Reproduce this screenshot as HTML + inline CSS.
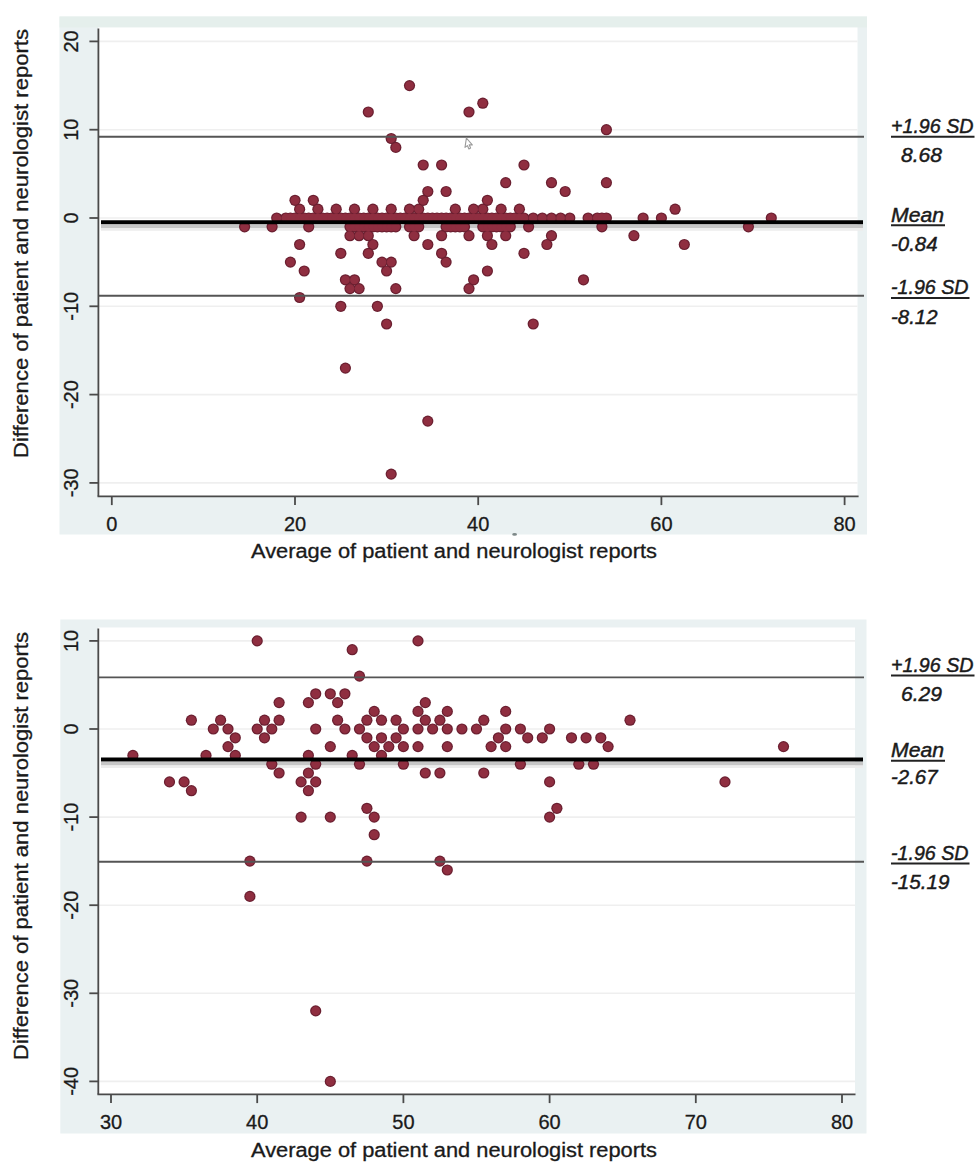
<!DOCTYPE html>
<html><head><meta charset="utf-8"><title>Bland-Altman plots</title>
<style>
html,body{margin:0;padding:0;background:#fff;}
svg{display:block;}
text{font-family:"Liberation Sans", sans-serif;fill:#1a1a1a;stroke:#1a1a1a;stroke-width:0.3px;}
</style></head>
<body>
<svg width="980" height="1172" viewBox="0 0 980 1172">
<rect width="980" height="1172" fill="#ffffff"/>
<rect x="59.5" y="16.5" width="807.5" height="518.0" fill="#eaf1f2"/>
<rect x="59.5" y="16.5" width="807.5" height="11.0" fill="#e5efec"/>
<rect x="98" y="27.5" width="759.5" height="468.5" fill="#ffffff"/>
<line x1="99" y1="41.4" x2="857.5" y2="41.4" stroke="#efefef" stroke-width="1.6"/>
<line x1="99" y1="129.7" x2="857.5" y2="129.7" stroke="#efefef" stroke-width="1.6"/>
<line x1="99" y1="218.0" x2="857.5" y2="218.0" stroke="#efefef" stroke-width="1.6"/>
<line x1="99" y1="306.3" x2="857.5" y2="306.3" stroke="#efefef" stroke-width="1.6"/>
<line x1="99" y1="394.6" x2="857.5" y2="394.6" stroke="#efefef" stroke-width="1.6"/>
<line x1="99" y1="482.9" x2="857.5" y2="482.9" stroke="#efefef" stroke-width="1.6"/>
<line x1="101" y1="226.4" x2="863" y2="226.4" stroke="#c6c6c6" stroke-width="3.4"/>
<line x1="101" y1="229.4" x2="863" y2="229.4" stroke="#ececec" stroke-width="2.6"/>
<g fill="#6a1f30">
<circle cx="409.5" cy="85.6" r="5.6"/>
<circle cx="482.8" cy="103.2" r="5.6"/>
<circle cx="368.3" cy="112.0" r="5.6"/>
<circle cx="469.0" cy="112.0" r="5.6"/>
<circle cx="606.4" cy="129.7" r="5.6"/>
<circle cx="391.2" cy="138.5" r="5.6"/>
<circle cx="395.8" cy="147.4" r="5.6"/>
<circle cx="423.2" cy="165.0" r="5.6"/>
<circle cx="441.6" cy="165.0" r="5.6"/>
<circle cx="524.0" cy="165.0" r="5.6"/>
<circle cx="505.7" cy="182.7" r="5.6"/>
<circle cx="551.5" cy="182.7" r="5.6"/>
<circle cx="606.4" cy="182.7" r="5.6"/>
<circle cx="427.8" cy="191.5" r="5.6"/>
<circle cx="446.1" cy="191.5" r="5.6"/>
<circle cx="565.2" cy="191.5" r="5.6"/>
<circle cx="295.0" cy="200.3" r="5.6"/>
<circle cx="313.3" cy="200.3" r="5.6"/>
<circle cx="423.2" cy="200.3" r="5.6"/>
<circle cx="487.4" cy="200.3" r="5.6"/>
<circle cx="299.6" cy="209.2" r="5.6"/>
<circle cx="317.9" cy="209.2" r="5.6"/>
<circle cx="336.2" cy="209.2" r="5.6"/>
<circle cx="354.5" cy="209.2" r="5.6"/>
<circle cx="372.9" cy="209.2" r="5.6"/>
<circle cx="391.2" cy="209.2" r="5.6"/>
<circle cx="409.5" cy="209.2" r="5.6"/>
<circle cx="418.7" cy="209.2" r="5.6"/>
<circle cx="455.3" cy="209.2" r="5.6"/>
<circle cx="473.6" cy="209.2" r="5.6"/>
<circle cx="482.8" cy="209.2" r="5.6"/>
<circle cx="501.1" cy="209.2" r="5.6"/>
<circle cx="519.4" cy="209.2" r="5.6"/>
<circle cx="675.1" cy="209.2" r="5.6"/>
<circle cx="276.7" cy="218.0" r="5.6"/>
<circle cx="285.8" cy="218.0" r="5.6"/>
<circle cx="290.4" cy="218.0" r="5.6"/>
<circle cx="295.0" cy="218.0" r="5.6"/>
<circle cx="299.6" cy="218.0" r="5.6"/>
<circle cx="304.2" cy="218.0" r="5.6"/>
<circle cx="308.7" cy="218.0" r="5.6"/>
<circle cx="313.3" cy="218.0" r="5.6"/>
<circle cx="317.9" cy="218.0" r="5.6"/>
<circle cx="322.5" cy="218.0" r="5.6"/>
<circle cx="327.1" cy="218.0" r="5.6"/>
<circle cx="331.6" cy="218.0" r="5.6"/>
<circle cx="336.2" cy="218.0" r="5.6"/>
<circle cx="340.8" cy="218.0" r="5.6"/>
<circle cx="345.4" cy="218.0" r="5.6"/>
<circle cx="350.0" cy="218.0" r="5.6"/>
<circle cx="354.5" cy="218.0" r="5.6"/>
<circle cx="359.1" cy="218.0" r="5.6"/>
<circle cx="363.7" cy="218.0" r="5.6"/>
<circle cx="368.3" cy="218.0" r="5.6"/>
<circle cx="372.9" cy="218.0" r="5.6"/>
<circle cx="377.4" cy="218.0" r="5.6"/>
<circle cx="382.0" cy="218.0" r="5.6"/>
<circle cx="386.6" cy="218.0" r="5.6"/>
<circle cx="391.2" cy="218.0" r="5.6"/>
<circle cx="395.8" cy="218.0" r="5.6"/>
<circle cx="400.3" cy="218.0" r="5.6"/>
<circle cx="404.9" cy="218.0" r="5.6"/>
<circle cx="409.5" cy="218.0" r="5.6"/>
<circle cx="414.1" cy="218.0" r="5.6"/>
<circle cx="418.7" cy="218.0" r="5.6"/>
<circle cx="423.2" cy="218.0" r="5.6"/>
<circle cx="427.8" cy="218.0" r="5.6"/>
<circle cx="432.4" cy="218.0" r="5.6"/>
<circle cx="437.0" cy="218.0" r="5.6"/>
<circle cx="441.6" cy="218.0" r="5.6"/>
<circle cx="446.1" cy="218.0" r="5.6"/>
<circle cx="450.7" cy="218.0" r="5.6"/>
<circle cx="455.3" cy="218.0" r="5.6"/>
<circle cx="459.9" cy="218.0" r="5.6"/>
<circle cx="464.5" cy="218.0" r="5.6"/>
<circle cx="469.0" cy="218.0" r="5.6"/>
<circle cx="473.6" cy="218.0" r="5.6"/>
<circle cx="478.2" cy="218.0" r="5.6"/>
<circle cx="482.8" cy="218.0" r="5.6"/>
<circle cx="487.4" cy="218.0" r="5.6"/>
<circle cx="491.9" cy="218.0" r="5.6"/>
<circle cx="496.5" cy="218.0" r="5.6"/>
<circle cx="501.1" cy="218.0" r="5.6"/>
<circle cx="505.7" cy="218.0" r="5.6"/>
<circle cx="510.3" cy="218.0" r="5.6"/>
<circle cx="514.8" cy="218.0" r="5.6"/>
<circle cx="519.4" cy="218.0" r="5.6"/>
<circle cx="524.0" cy="218.0" r="5.6"/>
<circle cx="533.2" cy="218.0" r="5.6"/>
<circle cx="542.3" cy="218.0" r="5.6"/>
<circle cx="551.5" cy="218.0" r="5.6"/>
<circle cx="560.6" cy="218.0" r="5.6"/>
<circle cx="569.8" cy="218.0" r="5.6"/>
<circle cx="588.1" cy="218.0" r="5.6"/>
<circle cx="597.3" cy="218.0" r="5.6"/>
<circle cx="601.9" cy="218.0" r="5.6"/>
<circle cx="606.4" cy="218.0" r="5.6"/>
<circle cx="643.1" cy="218.0" r="5.6"/>
<circle cx="661.4" cy="218.0" r="5.6"/>
<circle cx="771.3" cy="218.0" r="5.6"/>
<circle cx="244.6" cy="226.8" r="5.6"/>
<circle cx="272.1" cy="226.8" r="5.6"/>
<circle cx="308.7" cy="226.8" r="5.6"/>
<circle cx="350.0" cy="226.8" r="5.6"/>
<circle cx="354.5" cy="226.8" r="5.6"/>
<circle cx="359.1" cy="226.8" r="5.6"/>
<circle cx="363.7" cy="226.8" r="5.6"/>
<circle cx="368.3" cy="226.8" r="5.6"/>
<circle cx="372.9" cy="226.8" r="5.6"/>
<circle cx="377.4" cy="226.8" r="5.6"/>
<circle cx="382.0" cy="226.8" r="5.6"/>
<circle cx="386.6" cy="226.8" r="5.6"/>
<circle cx="391.2" cy="226.8" r="5.6"/>
<circle cx="395.8" cy="226.8" r="5.6"/>
<circle cx="409.5" cy="226.8" r="5.6"/>
<circle cx="414.1" cy="226.8" r="5.6"/>
<circle cx="418.7" cy="226.8" r="5.6"/>
<circle cx="446.1" cy="226.8" r="5.6"/>
<circle cx="450.7" cy="226.8" r="5.6"/>
<circle cx="455.3" cy="226.8" r="5.6"/>
<circle cx="459.9" cy="226.8" r="5.6"/>
<circle cx="464.5" cy="226.8" r="5.6"/>
<circle cx="482.8" cy="226.8" r="5.6"/>
<circle cx="487.4" cy="226.8" r="5.6"/>
<circle cx="491.9" cy="226.8" r="5.6"/>
<circle cx="496.5" cy="226.8" r="5.6"/>
<circle cx="501.1" cy="226.8" r="5.6"/>
<circle cx="505.7" cy="226.8" r="5.6"/>
<circle cx="510.3" cy="226.8" r="5.6"/>
<circle cx="528.6" cy="226.8" r="5.6"/>
<circle cx="601.9" cy="226.8" r="5.6"/>
<circle cx="748.4" cy="226.8" r="5.6"/>
<circle cx="350.0" cy="235.7" r="5.6"/>
<circle cx="359.1" cy="235.7" r="5.6"/>
<circle cx="368.3" cy="235.7" r="5.6"/>
<circle cx="414.1" cy="235.7" r="5.6"/>
<circle cx="441.6" cy="235.7" r="5.6"/>
<circle cx="469.0" cy="235.7" r="5.6"/>
<circle cx="487.4" cy="235.7" r="5.6"/>
<circle cx="505.7" cy="235.7" r="5.6"/>
<circle cx="551.5" cy="235.7" r="5.6"/>
<circle cx="633.9" cy="235.7" r="5.6"/>
<circle cx="299.6" cy="244.5" r="5.6"/>
<circle cx="372.9" cy="244.5" r="5.6"/>
<circle cx="427.8" cy="244.5" r="5.6"/>
<circle cx="491.9" cy="244.5" r="5.6"/>
<circle cx="546.9" cy="244.5" r="5.6"/>
<circle cx="684.3" cy="244.5" r="5.6"/>
<circle cx="340.8" cy="253.3" r="5.6"/>
<circle cx="368.3" cy="253.3" r="5.6"/>
<circle cx="441.6" cy="253.3" r="5.6"/>
<circle cx="524.0" cy="253.3" r="5.6"/>
<circle cx="290.4" cy="262.1" r="5.6"/>
<circle cx="382.0" cy="262.1" r="5.6"/>
<circle cx="391.2" cy="262.1" r="5.6"/>
<circle cx="446.1" cy="262.1" r="5.6"/>
<circle cx="304.2" cy="271.0" r="5.6"/>
<circle cx="386.6" cy="271.0" r="5.6"/>
<circle cx="487.4" cy="271.0" r="5.6"/>
<circle cx="345.4" cy="279.8" r="5.6"/>
<circle cx="354.5" cy="279.8" r="5.6"/>
<circle cx="473.6" cy="279.8" r="5.6"/>
<circle cx="583.5" cy="279.8" r="5.6"/>
<circle cx="350.0" cy="288.6" r="5.6"/>
<circle cx="359.1" cy="288.6" r="5.6"/>
<circle cx="395.8" cy="288.6" r="5.6"/>
<circle cx="469.0" cy="288.6" r="5.6"/>
<circle cx="299.6" cy="297.5" r="5.6"/>
<circle cx="340.8" cy="306.3" r="5.6"/>
<circle cx="377.4" cy="306.3" r="5.6"/>
<circle cx="386.6" cy="324.0" r="5.6"/>
<circle cx="533.2" cy="324.0" r="5.6"/>
<circle cx="345.4" cy="368.1" r="5.6"/>
<circle cx="427.8" cy="421.1" r="5.6"/>
<circle cx="391.2" cy="474.1" r="5.6"/>
</g>
<g fill="#8f2e40">
<circle cx="409.5" cy="85.6" r="4.4"/>
<circle cx="482.8" cy="103.2" r="4.4"/>
<circle cx="368.3" cy="112.0" r="4.4"/>
<circle cx="469.0" cy="112.0" r="4.4"/>
<circle cx="606.4" cy="129.7" r="4.4"/>
<circle cx="391.2" cy="138.5" r="4.4"/>
<circle cx="395.8" cy="147.4" r="4.4"/>
<circle cx="423.2" cy="165.0" r="4.4"/>
<circle cx="441.6" cy="165.0" r="4.4"/>
<circle cx="524.0" cy="165.0" r="4.4"/>
<circle cx="505.7" cy="182.7" r="4.4"/>
<circle cx="551.5" cy="182.7" r="4.4"/>
<circle cx="606.4" cy="182.7" r="4.4"/>
<circle cx="427.8" cy="191.5" r="4.4"/>
<circle cx="446.1" cy="191.5" r="4.4"/>
<circle cx="565.2" cy="191.5" r="4.4"/>
<circle cx="295.0" cy="200.3" r="4.4"/>
<circle cx="313.3" cy="200.3" r="4.4"/>
<circle cx="423.2" cy="200.3" r="4.4"/>
<circle cx="487.4" cy="200.3" r="4.4"/>
<circle cx="299.6" cy="209.2" r="4.4"/>
<circle cx="317.9" cy="209.2" r="4.4"/>
<circle cx="336.2" cy="209.2" r="4.4"/>
<circle cx="354.5" cy="209.2" r="4.4"/>
<circle cx="372.9" cy="209.2" r="4.4"/>
<circle cx="391.2" cy="209.2" r="4.4"/>
<circle cx="409.5" cy="209.2" r="4.4"/>
<circle cx="418.7" cy="209.2" r="4.4"/>
<circle cx="455.3" cy="209.2" r="4.4"/>
<circle cx="473.6" cy="209.2" r="4.4"/>
<circle cx="482.8" cy="209.2" r="4.4"/>
<circle cx="501.1" cy="209.2" r="4.4"/>
<circle cx="519.4" cy="209.2" r="4.4"/>
<circle cx="675.1" cy="209.2" r="4.4"/>
<circle cx="276.7" cy="218.0" r="4.4"/>
<circle cx="285.8" cy="218.0" r="4.4"/>
<circle cx="290.4" cy="218.0" r="4.4"/>
<circle cx="295.0" cy="218.0" r="4.4"/>
<circle cx="299.6" cy="218.0" r="4.4"/>
<circle cx="304.2" cy="218.0" r="4.4"/>
<circle cx="308.7" cy="218.0" r="4.4"/>
<circle cx="313.3" cy="218.0" r="4.4"/>
<circle cx="317.9" cy="218.0" r="4.4"/>
<circle cx="322.5" cy="218.0" r="4.4"/>
<circle cx="327.1" cy="218.0" r="4.4"/>
<circle cx="331.6" cy="218.0" r="4.4"/>
<circle cx="336.2" cy="218.0" r="4.4"/>
<circle cx="340.8" cy="218.0" r="4.4"/>
<circle cx="345.4" cy="218.0" r="4.4"/>
<circle cx="350.0" cy="218.0" r="4.4"/>
<circle cx="354.5" cy="218.0" r="4.4"/>
<circle cx="359.1" cy="218.0" r="4.4"/>
<circle cx="363.7" cy="218.0" r="4.4"/>
<circle cx="368.3" cy="218.0" r="4.4"/>
<circle cx="372.9" cy="218.0" r="4.4"/>
<circle cx="377.4" cy="218.0" r="4.4"/>
<circle cx="382.0" cy="218.0" r="4.4"/>
<circle cx="386.6" cy="218.0" r="4.4"/>
<circle cx="391.2" cy="218.0" r="4.4"/>
<circle cx="395.8" cy="218.0" r="4.4"/>
<circle cx="400.3" cy="218.0" r="4.4"/>
<circle cx="404.9" cy="218.0" r="4.4"/>
<circle cx="409.5" cy="218.0" r="4.4"/>
<circle cx="414.1" cy="218.0" r="4.4"/>
<circle cx="418.7" cy="218.0" r="4.4"/>
<circle cx="423.2" cy="218.0" r="4.4"/>
<circle cx="427.8" cy="218.0" r="4.4"/>
<circle cx="432.4" cy="218.0" r="4.4"/>
<circle cx="437.0" cy="218.0" r="4.4"/>
<circle cx="441.6" cy="218.0" r="4.4"/>
<circle cx="446.1" cy="218.0" r="4.4"/>
<circle cx="450.7" cy="218.0" r="4.4"/>
<circle cx="455.3" cy="218.0" r="4.4"/>
<circle cx="459.9" cy="218.0" r="4.4"/>
<circle cx="464.5" cy="218.0" r="4.4"/>
<circle cx="469.0" cy="218.0" r="4.4"/>
<circle cx="473.6" cy="218.0" r="4.4"/>
<circle cx="478.2" cy="218.0" r="4.4"/>
<circle cx="482.8" cy="218.0" r="4.4"/>
<circle cx="487.4" cy="218.0" r="4.4"/>
<circle cx="491.9" cy="218.0" r="4.4"/>
<circle cx="496.5" cy="218.0" r="4.4"/>
<circle cx="501.1" cy="218.0" r="4.4"/>
<circle cx="505.7" cy="218.0" r="4.4"/>
<circle cx="510.3" cy="218.0" r="4.4"/>
<circle cx="514.8" cy="218.0" r="4.4"/>
<circle cx="519.4" cy="218.0" r="4.4"/>
<circle cx="524.0" cy="218.0" r="4.4"/>
<circle cx="533.2" cy="218.0" r="4.4"/>
<circle cx="542.3" cy="218.0" r="4.4"/>
<circle cx="551.5" cy="218.0" r="4.4"/>
<circle cx="560.6" cy="218.0" r="4.4"/>
<circle cx="569.8" cy="218.0" r="4.4"/>
<circle cx="588.1" cy="218.0" r="4.4"/>
<circle cx="597.3" cy="218.0" r="4.4"/>
<circle cx="601.9" cy="218.0" r="4.4"/>
<circle cx="606.4" cy="218.0" r="4.4"/>
<circle cx="643.1" cy="218.0" r="4.4"/>
<circle cx="661.4" cy="218.0" r="4.4"/>
<circle cx="771.3" cy="218.0" r="4.4"/>
<circle cx="244.6" cy="226.8" r="4.4"/>
<circle cx="272.1" cy="226.8" r="4.4"/>
<circle cx="308.7" cy="226.8" r="4.4"/>
<circle cx="350.0" cy="226.8" r="4.4"/>
<circle cx="354.5" cy="226.8" r="4.4"/>
<circle cx="359.1" cy="226.8" r="4.4"/>
<circle cx="363.7" cy="226.8" r="4.4"/>
<circle cx="368.3" cy="226.8" r="4.4"/>
<circle cx="372.9" cy="226.8" r="4.4"/>
<circle cx="377.4" cy="226.8" r="4.4"/>
<circle cx="382.0" cy="226.8" r="4.4"/>
<circle cx="386.6" cy="226.8" r="4.4"/>
<circle cx="391.2" cy="226.8" r="4.4"/>
<circle cx="395.8" cy="226.8" r="4.4"/>
<circle cx="409.5" cy="226.8" r="4.4"/>
<circle cx="414.1" cy="226.8" r="4.4"/>
<circle cx="418.7" cy="226.8" r="4.4"/>
<circle cx="446.1" cy="226.8" r="4.4"/>
<circle cx="450.7" cy="226.8" r="4.4"/>
<circle cx="455.3" cy="226.8" r="4.4"/>
<circle cx="459.9" cy="226.8" r="4.4"/>
<circle cx="464.5" cy="226.8" r="4.4"/>
<circle cx="482.8" cy="226.8" r="4.4"/>
<circle cx="487.4" cy="226.8" r="4.4"/>
<circle cx="491.9" cy="226.8" r="4.4"/>
<circle cx="496.5" cy="226.8" r="4.4"/>
<circle cx="501.1" cy="226.8" r="4.4"/>
<circle cx="505.7" cy="226.8" r="4.4"/>
<circle cx="510.3" cy="226.8" r="4.4"/>
<circle cx="528.6" cy="226.8" r="4.4"/>
<circle cx="601.9" cy="226.8" r="4.4"/>
<circle cx="748.4" cy="226.8" r="4.4"/>
<circle cx="350.0" cy="235.7" r="4.4"/>
<circle cx="359.1" cy="235.7" r="4.4"/>
<circle cx="368.3" cy="235.7" r="4.4"/>
<circle cx="414.1" cy="235.7" r="4.4"/>
<circle cx="441.6" cy="235.7" r="4.4"/>
<circle cx="469.0" cy="235.7" r="4.4"/>
<circle cx="487.4" cy="235.7" r="4.4"/>
<circle cx="505.7" cy="235.7" r="4.4"/>
<circle cx="551.5" cy="235.7" r="4.4"/>
<circle cx="633.9" cy="235.7" r="4.4"/>
<circle cx="299.6" cy="244.5" r="4.4"/>
<circle cx="372.9" cy="244.5" r="4.4"/>
<circle cx="427.8" cy="244.5" r="4.4"/>
<circle cx="491.9" cy="244.5" r="4.4"/>
<circle cx="546.9" cy="244.5" r="4.4"/>
<circle cx="684.3" cy="244.5" r="4.4"/>
<circle cx="340.8" cy="253.3" r="4.4"/>
<circle cx="368.3" cy="253.3" r="4.4"/>
<circle cx="441.6" cy="253.3" r="4.4"/>
<circle cx="524.0" cy="253.3" r="4.4"/>
<circle cx="290.4" cy="262.1" r="4.4"/>
<circle cx="382.0" cy="262.1" r="4.4"/>
<circle cx="391.2" cy="262.1" r="4.4"/>
<circle cx="446.1" cy="262.1" r="4.4"/>
<circle cx="304.2" cy="271.0" r="4.4"/>
<circle cx="386.6" cy="271.0" r="4.4"/>
<circle cx="487.4" cy="271.0" r="4.4"/>
<circle cx="345.4" cy="279.8" r="4.4"/>
<circle cx="354.5" cy="279.8" r="4.4"/>
<circle cx="473.6" cy="279.8" r="4.4"/>
<circle cx="583.5" cy="279.8" r="4.4"/>
<circle cx="350.0" cy="288.6" r="4.4"/>
<circle cx="359.1" cy="288.6" r="4.4"/>
<circle cx="395.8" cy="288.6" r="4.4"/>
<circle cx="469.0" cy="288.6" r="4.4"/>
<circle cx="299.6" cy="297.5" r="4.4"/>
<circle cx="340.8" cy="306.3" r="4.4"/>
<circle cx="377.4" cy="306.3" r="4.4"/>
<circle cx="386.6" cy="324.0" r="4.4"/>
<circle cx="533.2" cy="324.0" r="4.4"/>
<circle cx="345.4" cy="368.1" r="4.4"/>
<circle cx="427.8" cy="421.1" r="4.4"/>
<circle cx="391.2" cy="474.1" r="4.4"/>
</g>
<line x1="99" y1="136.8" x2="864" y2="136.8" stroke="#555555" stroke-width="1.9"/>
<line x1="101" y1="222.2" x2="863" y2="222.2" stroke="#000" stroke-width="4.0"/>
<line x1="99" y1="295.7" x2="864" y2="295.7" stroke="#555555" stroke-width="1.9"/>
<line x1="98.4" y1="28.5" x2="98.4" y2="496.3" stroke="#4a4a4a" stroke-width="1.8"/>
<line x1="97.5" y1="496.3" x2="858.6" y2="496.3" stroke="#4a4a4a" stroke-width="1.8"/>
<line x1="89.4" y1="41.4" x2="98.4" y2="41.4" stroke="#4a4a4a" stroke-width="1.8"/>
<text transform="translate(78.3,41.4) rotate(-90)" text-anchor="middle" font-size="20">20</text>
<line x1="89.4" y1="129.7" x2="98.4" y2="129.7" stroke="#4a4a4a" stroke-width="1.8"/>
<text transform="translate(78.3,129.7) rotate(-90)" text-anchor="middle" font-size="20">10</text>
<line x1="89.4" y1="218.0" x2="98.4" y2="218.0" stroke="#4a4a4a" stroke-width="1.8"/>
<text transform="translate(78.3,218.0) rotate(-90)" text-anchor="middle" font-size="20">0</text>
<line x1="89.4" y1="306.3" x2="98.4" y2="306.3" stroke="#4a4a4a" stroke-width="1.8"/>
<text transform="translate(78.3,306.3) rotate(-90)" text-anchor="middle" font-size="20">-10</text>
<line x1="89.4" y1="394.6" x2="98.4" y2="394.6" stroke="#4a4a4a" stroke-width="1.8"/>
<text transform="translate(78.3,394.6) rotate(-90)" text-anchor="middle" font-size="20">-20</text>
<line x1="89.4" y1="482.9" x2="98.4" y2="482.9" stroke="#4a4a4a" stroke-width="1.8"/>
<text transform="translate(78.3,482.9) rotate(-90)" text-anchor="middle" font-size="20">-30</text>
<line x1="111.8" y1="496.3" x2="111.8" y2="505.1" stroke="#4a4a4a" stroke-width="1.8"/>
<text x="111.8" y="531" text-anchor="middle" font-size="20">0</text>
<line x1="295.0" y1="496.3" x2="295.0" y2="505.1" stroke="#4a4a4a" stroke-width="1.8"/>
<text x="295.0" y="531" text-anchor="middle" font-size="20">20</text>
<line x1="478.2" y1="496.3" x2="478.2" y2="505.1" stroke="#4a4a4a" stroke-width="1.8"/>
<text x="478.2" y="531" text-anchor="middle" font-size="20">40</text>
<line x1="661.4" y1="496.3" x2="661.4" y2="505.1" stroke="#4a4a4a" stroke-width="1.8"/>
<text x="661.4" y="531" text-anchor="middle" font-size="20">60</text>
<line x1="844.6" y1="496.3" x2="844.6" y2="505.1" stroke="#4a4a4a" stroke-width="1.8"/>
<text x="844.6" y="531" text-anchor="middle" font-size="20">80</text>
<text transform="translate(28.3,458.0) rotate(-90)" font-size="19.5" textLength="429" lengthAdjust="spacingAndGlyphs">Difference of patient and neurologist reports</text>
<text x="251" y="558.0" font-size="19.5" textLength="406" lengthAdjust="spacingAndGlyphs">Average of patient and neurologist reports</text>
<text x="891" y="133.3" font-size="20" font-style="italic" style="stroke-width:0.45px" textLength="82.5" lengthAdjust="spacingAndGlyphs">+1.96 SD</text>
<line x1="891" y1="136.8" x2="974.5" y2="136.8" stroke="#222" stroke-width="2.0"/>
<text x="901" y="162" font-size="20" font-style="italic" style="stroke-width:0.45px" textLength="41" lengthAdjust="spacingAndGlyphs">8.68</text>
<text x="891" y="221.5" font-size="20" font-style="italic" style="stroke-width:0.45px" textLength="53" lengthAdjust="spacingAndGlyphs">Mean</text>
<line x1="891" y1="225.3" x2="945" y2="225.3" stroke="#222" stroke-width="2.0"/>
<text x="891" y="250.6" font-size="20" font-style="italic" style="stroke-width:0.45px" textLength="46.5" lengthAdjust="spacingAndGlyphs">-0.84</text>
<text x="891" y="294" font-size="20" font-style="italic" style="stroke-width:0.45px" textLength="77.5" lengthAdjust="spacingAndGlyphs">-1.96 SD</text>
<line x1="891" y1="298" x2="969.5" y2="298" stroke="#222" stroke-width="2.0"/>
<text x="891" y="324" font-size="20" font-style="italic" style="stroke-width:0.45px" textLength="46.5" lengthAdjust="spacingAndGlyphs">-8.12</text>
<rect x="60.3" y="619.5" width="806.2" height="514.0" fill="#eaf1f2"/>
<rect x="98" y="627.5" width="757" height="466.5" fill="#ffffff"/>
<line x1="99" y1="640.9" x2="855" y2="640.9" stroke="#efefef" stroke-width="1.6"/>
<line x1="99" y1="729.0" x2="855" y2="729.0" stroke="#efefef" stroke-width="1.6"/>
<line x1="99" y1="817.1" x2="855" y2="817.1" stroke="#efefef" stroke-width="1.6"/>
<line x1="99" y1="905.2" x2="855" y2="905.2" stroke="#efefef" stroke-width="1.6"/>
<line x1="99" y1="993.3" x2="855" y2="993.3" stroke="#efefef" stroke-width="1.6"/>
<line x1="99" y1="1081.4" x2="855" y2="1081.4" stroke="#efefef" stroke-width="1.6"/>
<line x1="101" y1="763.7" x2="863" y2="763.7" stroke="#c6c6c6" stroke-width="3.4"/>
<line x1="101" y1="766.7" x2="863" y2="766.7" stroke="#ececec" stroke-width="2.6"/>
<g fill="#6a1f30">
<circle cx="257.2" cy="640.9" r="5.6"/>
<circle cx="418.0" cy="640.9" r="5.6"/>
<circle cx="352.2" cy="649.7" r="5.6"/>
<circle cx="359.5" cy="676.1" r="5.6"/>
<circle cx="315.7" cy="693.8" r="5.6"/>
<circle cx="330.3" cy="693.8" r="5.6"/>
<circle cx="344.9" cy="693.8" r="5.6"/>
<circle cx="279.1" cy="702.6" r="5.6"/>
<circle cx="308.4" cy="702.6" r="5.6"/>
<circle cx="337.6" cy="702.6" r="5.6"/>
<circle cx="425.3" cy="702.6" r="5.6"/>
<circle cx="374.2" cy="711.4" r="5.6"/>
<circle cx="418.0" cy="711.4" r="5.6"/>
<circle cx="447.3" cy="711.4" r="5.6"/>
<circle cx="505.7" cy="711.4" r="5.6"/>
<circle cx="191.4" cy="720.2" r="5.6"/>
<circle cx="220.6" cy="720.2" r="5.6"/>
<circle cx="264.5" cy="720.2" r="5.6"/>
<circle cx="279.1" cy="720.2" r="5.6"/>
<circle cx="337.6" cy="720.2" r="5.6"/>
<circle cx="366.9" cy="720.2" r="5.6"/>
<circle cx="381.5" cy="720.2" r="5.6"/>
<circle cx="396.1" cy="720.2" r="5.6"/>
<circle cx="425.3" cy="720.2" r="5.6"/>
<circle cx="439.9" cy="720.2" r="5.6"/>
<circle cx="483.8" cy="720.2" r="5.6"/>
<circle cx="630.0" cy="720.2" r="5.6"/>
<circle cx="213.3" cy="729.0" r="5.6"/>
<circle cx="228.0" cy="729.0" r="5.6"/>
<circle cx="257.2" cy="729.0" r="5.6"/>
<circle cx="271.8" cy="729.0" r="5.6"/>
<circle cx="315.7" cy="729.0" r="5.6"/>
<circle cx="344.9" cy="729.0" r="5.6"/>
<circle cx="359.5" cy="729.0" r="5.6"/>
<circle cx="403.4" cy="729.0" r="5.6"/>
<circle cx="418.0" cy="729.0" r="5.6"/>
<circle cx="432.6" cy="729.0" r="5.6"/>
<circle cx="447.3" cy="729.0" r="5.6"/>
<circle cx="461.9" cy="729.0" r="5.6"/>
<circle cx="476.5" cy="729.0" r="5.6"/>
<circle cx="505.7" cy="729.0" r="5.6"/>
<circle cx="520.4" cy="729.0" r="5.6"/>
<circle cx="549.6" cy="729.0" r="5.6"/>
<circle cx="235.3" cy="737.8" r="5.6"/>
<circle cx="264.5" cy="737.8" r="5.6"/>
<circle cx="366.9" cy="737.8" r="5.6"/>
<circle cx="381.5" cy="737.8" r="5.6"/>
<circle cx="396.1" cy="737.8" r="5.6"/>
<circle cx="498.4" cy="737.8" r="5.6"/>
<circle cx="527.7" cy="737.8" r="5.6"/>
<circle cx="542.3" cy="737.8" r="5.6"/>
<circle cx="571.5" cy="737.8" r="5.6"/>
<circle cx="586.1" cy="737.8" r="5.6"/>
<circle cx="600.8" cy="737.8" r="5.6"/>
<circle cx="228.0" cy="746.6" r="5.6"/>
<circle cx="330.3" cy="746.6" r="5.6"/>
<circle cx="374.2" cy="746.6" r="5.6"/>
<circle cx="388.8" cy="746.6" r="5.6"/>
<circle cx="403.4" cy="746.6" r="5.6"/>
<circle cx="418.0" cy="746.6" r="5.6"/>
<circle cx="447.3" cy="746.6" r="5.6"/>
<circle cx="491.1" cy="746.6" r="5.6"/>
<circle cx="505.7" cy="746.6" r="5.6"/>
<circle cx="608.1" cy="746.6" r="5.6"/>
<circle cx="783.5" cy="746.6" r="5.6"/>
<circle cx="132.9" cy="755.4" r="5.6"/>
<circle cx="206.0" cy="755.4" r="5.6"/>
<circle cx="235.3" cy="755.4" r="5.6"/>
<circle cx="308.4" cy="755.4" r="5.6"/>
<circle cx="352.2" cy="755.4" r="5.6"/>
<circle cx="381.5" cy="755.4" r="5.6"/>
<circle cx="271.8" cy="764.2" r="5.6"/>
<circle cx="315.7" cy="764.2" r="5.6"/>
<circle cx="359.5" cy="764.2" r="5.6"/>
<circle cx="403.4" cy="764.2" r="5.6"/>
<circle cx="520.4" cy="764.2" r="5.6"/>
<circle cx="578.8" cy="764.2" r="5.6"/>
<circle cx="593.5" cy="764.2" r="5.6"/>
<circle cx="279.1" cy="773.0" r="5.6"/>
<circle cx="308.4" cy="773.0" r="5.6"/>
<circle cx="425.3" cy="773.0" r="5.6"/>
<circle cx="439.9" cy="773.0" r="5.6"/>
<circle cx="483.8" cy="773.0" r="5.6"/>
<circle cx="169.5" cy="781.9" r="5.6"/>
<circle cx="184.1" cy="781.9" r="5.6"/>
<circle cx="301.1" cy="781.9" r="5.6"/>
<circle cx="315.7" cy="781.9" r="5.6"/>
<circle cx="549.6" cy="781.9" r="5.6"/>
<circle cx="725.0" cy="781.9" r="5.6"/>
<circle cx="191.4" cy="790.7" r="5.6"/>
<circle cx="308.4" cy="790.7" r="5.6"/>
<circle cx="366.9" cy="808.3" r="5.6"/>
<circle cx="556.9" cy="808.3" r="5.6"/>
<circle cx="301.1" cy="817.1" r="5.6"/>
<circle cx="330.3" cy="817.1" r="5.6"/>
<circle cx="374.2" cy="817.1" r="5.6"/>
<circle cx="549.6" cy="817.1" r="5.6"/>
<circle cx="374.2" cy="834.7" r="5.6"/>
<circle cx="249.9" cy="861.1" r="5.6"/>
<circle cx="366.9" cy="861.1" r="5.6"/>
<circle cx="439.9" cy="861.1" r="5.6"/>
<circle cx="447.3" cy="870.0" r="5.6"/>
<circle cx="249.9" cy="896.4" r="5.6"/>
<circle cx="315.7" cy="1010.9" r="5.6"/>
<circle cx="330.3" cy="1081.4" r="5.6"/>
</g>
<g fill="#8f2e40">
<circle cx="257.2" cy="640.9" r="4.4"/>
<circle cx="418.0" cy="640.9" r="4.4"/>
<circle cx="352.2" cy="649.7" r="4.4"/>
<circle cx="359.5" cy="676.1" r="4.4"/>
<circle cx="315.7" cy="693.8" r="4.4"/>
<circle cx="330.3" cy="693.8" r="4.4"/>
<circle cx="344.9" cy="693.8" r="4.4"/>
<circle cx="279.1" cy="702.6" r="4.4"/>
<circle cx="308.4" cy="702.6" r="4.4"/>
<circle cx="337.6" cy="702.6" r="4.4"/>
<circle cx="425.3" cy="702.6" r="4.4"/>
<circle cx="374.2" cy="711.4" r="4.4"/>
<circle cx="418.0" cy="711.4" r="4.4"/>
<circle cx="447.3" cy="711.4" r="4.4"/>
<circle cx="505.7" cy="711.4" r="4.4"/>
<circle cx="191.4" cy="720.2" r="4.4"/>
<circle cx="220.6" cy="720.2" r="4.4"/>
<circle cx="264.5" cy="720.2" r="4.4"/>
<circle cx="279.1" cy="720.2" r="4.4"/>
<circle cx="337.6" cy="720.2" r="4.4"/>
<circle cx="366.9" cy="720.2" r="4.4"/>
<circle cx="381.5" cy="720.2" r="4.4"/>
<circle cx="396.1" cy="720.2" r="4.4"/>
<circle cx="425.3" cy="720.2" r="4.4"/>
<circle cx="439.9" cy="720.2" r="4.4"/>
<circle cx="483.8" cy="720.2" r="4.4"/>
<circle cx="630.0" cy="720.2" r="4.4"/>
<circle cx="213.3" cy="729.0" r="4.4"/>
<circle cx="228.0" cy="729.0" r="4.4"/>
<circle cx="257.2" cy="729.0" r="4.4"/>
<circle cx="271.8" cy="729.0" r="4.4"/>
<circle cx="315.7" cy="729.0" r="4.4"/>
<circle cx="344.9" cy="729.0" r="4.4"/>
<circle cx="359.5" cy="729.0" r="4.4"/>
<circle cx="403.4" cy="729.0" r="4.4"/>
<circle cx="418.0" cy="729.0" r="4.4"/>
<circle cx="432.6" cy="729.0" r="4.4"/>
<circle cx="447.3" cy="729.0" r="4.4"/>
<circle cx="461.9" cy="729.0" r="4.4"/>
<circle cx="476.5" cy="729.0" r="4.4"/>
<circle cx="505.7" cy="729.0" r="4.4"/>
<circle cx="520.4" cy="729.0" r="4.4"/>
<circle cx="549.6" cy="729.0" r="4.4"/>
<circle cx="235.3" cy="737.8" r="4.4"/>
<circle cx="264.5" cy="737.8" r="4.4"/>
<circle cx="366.9" cy="737.8" r="4.4"/>
<circle cx="381.5" cy="737.8" r="4.4"/>
<circle cx="396.1" cy="737.8" r="4.4"/>
<circle cx="498.4" cy="737.8" r="4.4"/>
<circle cx="527.7" cy="737.8" r="4.4"/>
<circle cx="542.3" cy="737.8" r="4.4"/>
<circle cx="571.5" cy="737.8" r="4.4"/>
<circle cx="586.1" cy="737.8" r="4.4"/>
<circle cx="600.8" cy="737.8" r="4.4"/>
<circle cx="228.0" cy="746.6" r="4.4"/>
<circle cx="330.3" cy="746.6" r="4.4"/>
<circle cx="374.2" cy="746.6" r="4.4"/>
<circle cx="388.8" cy="746.6" r="4.4"/>
<circle cx="403.4" cy="746.6" r="4.4"/>
<circle cx="418.0" cy="746.6" r="4.4"/>
<circle cx="447.3" cy="746.6" r="4.4"/>
<circle cx="491.1" cy="746.6" r="4.4"/>
<circle cx="505.7" cy="746.6" r="4.4"/>
<circle cx="608.1" cy="746.6" r="4.4"/>
<circle cx="783.5" cy="746.6" r="4.4"/>
<circle cx="132.9" cy="755.4" r="4.4"/>
<circle cx="206.0" cy="755.4" r="4.4"/>
<circle cx="235.3" cy="755.4" r="4.4"/>
<circle cx="308.4" cy="755.4" r="4.4"/>
<circle cx="352.2" cy="755.4" r="4.4"/>
<circle cx="381.5" cy="755.4" r="4.4"/>
<circle cx="271.8" cy="764.2" r="4.4"/>
<circle cx="315.7" cy="764.2" r="4.4"/>
<circle cx="359.5" cy="764.2" r="4.4"/>
<circle cx="403.4" cy="764.2" r="4.4"/>
<circle cx="520.4" cy="764.2" r="4.4"/>
<circle cx="578.8" cy="764.2" r="4.4"/>
<circle cx="593.5" cy="764.2" r="4.4"/>
<circle cx="279.1" cy="773.0" r="4.4"/>
<circle cx="308.4" cy="773.0" r="4.4"/>
<circle cx="425.3" cy="773.0" r="4.4"/>
<circle cx="439.9" cy="773.0" r="4.4"/>
<circle cx="483.8" cy="773.0" r="4.4"/>
<circle cx="169.5" cy="781.9" r="4.4"/>
<circle cx="184.1" cy="781.9" r="4.4"/>
<circle cx="301.1" cy="781.9" r="4.4"/>
<circle cx="315.7" cy="781.9" r="4.4"/>
<circle cx="549.6" cy="781.9" r="4.4"/>
<circle cx="725.0" cy="781.9" r="4.4"/>
<circle cx="191.4" cy="790.7" r="4.4"/>
<circle cx="308.4" cy="790.7" r="4.4"/>
<circle cx="366.9" cy="808.3" r="4.4"/>
<circle cx="556.9" cy="808.3" r="4.4"/>
<circle cx="301.1" cy="817.1" r="4.4"/>
<circle cx="330.3" cy="817.1" r="4.4"/>
<circle cx="374.2" cy="817.1" r="4.4"/>
<circle cx="549.6" cy="817.1" r="4.4"/>
<circle cx="374.2" cy="834.7" r="4.4"/>
<circle cx="249.9" cy="861.1" r="4.4"/>
<circle cx="366.9" cy="861.1" r="4.4"/>
<circle cx="439.9" cy="861.1" r="4.4"/>
<circle cx="447.3" cy="870.0" r="4.4"/>
<circle cx="249.9" cy="896.4" r="4.4"/>
<circle cx="315.7" cy="1010.9" r="4.4"/>
<circle cx="330.3" cy="1081.4" r="4.4"/>
</g>
<line x1="99" y1="677.4" x2="864" y2="677.4" stroke="#555555" stroke-width="1.9"/>
<line x1="101" y1="759.5" x2="863" y2="759.5" stroke="#000" stroke-width="4.0"/>
<line x1="99" y1="861.7" x2="864" y2="861.7" stroke="#555555" stroke-width="1.9"/>
<line x1="98.3" y1="628.6" x2="98.3" y2="1094.3" stroke="#4a4a4a" stroke-width="1.8"/>
<line x1="97.39999999999999" y1="1094.3" x2="855.5" y2="1094.3" stroke="#4a4a4a" stroke-width="1.8"/>
<line x1="89.3" y1="640.9" x2="98.3" y2="640.9" stroke="#4a4a4a" stroke-width="1.8"/>
<text transform="translate(77.6,640.9) rotate(-90)" text-anchor="middle" font-size="20">10</text>
<line x1="89.3" y1="729.0" x2="98.3" y2="729.0" stroke="#4a4a4a" stroke-width="1.8"/>
<text transform="translate(77.6,729.0) rotate(-90)" text-anchor="middle" font-size="20">0</text>
<line x1="89.3" y1="817.1" x2="98.3" y2="817.1" stroke="#4a4a4a" stroke-width="1.8"/>
<text transform="translate(77.6,817.1) rotate(-90)" text-anchor="middle" font-size="20">-10</text>
<line x1="89.3" y1="905.2" x2="98.3" y2="905.2" stroke="#4a4a4a" stroke-width="1.8"/>
<text transform="translate(77.6,905.2) rotate(-90)" text-anchor="middle" font-size="20">-20</text>
<line x1="89.3" y1="993.3" x2="98.3" y2="993.3" stroke="#4a4a4a" stroke-width="1.8"/>
<text transform="translate(77.6,993.3) rotate(-90)" text-anchor="middle" font-size="20">-30</text>
<line x1="89.3" y1="1081.4" x2="98.3" y2="1081.4" stroke="#4a4a4a" stroke-width="1.8"/>
<text transform="translate(77.6,1081.4) rotate(-90)" text-anchor="middle" font-size="20">-40</text>
<line x1="111.0" y1="1094.3" x2="111.0" y2="1103.1" stroke="#4a4a4a" stroke-width="1.8"/>
<text x="111.0" y="1129" text-anchor="middle" font-size="20">30</text>
<line x1="257.2" y1="1094.3" x2="257.2" y2="1103.1" stroke="#4a4a4a" stroke-width="1.8"/>
<text x="257.2" y="1129" text-anchor="middle" font-size="20">40</text>
<line x1="403.4" y1="1094.3" x2="403.4" y2="1103.1" stroke="#4a4a4a" stroke-width="1.8"/>
<text x="403.4" y="1129" text-anchor="middle" font-size="20">50</text>
<line x1="549.6" y1="1094.3" x2="549.6" y2="1103.1" stroke="#4a4a4a" stroke-width="1.8"/>
<text x="549.6" y="1129" text-anchor="middle" font-size="20">60</text>
<line x1="695.8" y1="1094.3" x2="695.8" y2="1103.1" stroke="#4a4a4a" stroke-width="1.8"/>
<text x="695.8" y="1129" text-anchor="middle" font-size="20">70</text>
<line x1="842.0" y1="1094.3" x2="842.0" y2="1103.1" stroke="#4a4a4a" stroke-width="1.8"/>
<text x="842.0" y="1129" text-anchor="middle" font-size="20">80</text>
<text transform="translate(28.4,1060.0) rotate(-90)" font-size="19.5" textLength="428" lengthAdjust="spacingAndGlyphs">Difference of patient and neurologist reports</text>
<text x="251" y="1157.0" font-size="19.5" textLength="406" lengthAdjust="spacingAndGlyphs">Average of patient and neurologist reports</text>
<text x="891" y="672.2" font-size="20" font-style="italic" style="stroke-width:0.45px" textLength="82.5" lengthAdjust="spacingAndGlyphs">+1.96 SD</text>
<line x1="891" y1="675.6" x2="974.5" y2="675.6" stroke="#222" stroke-width="2.0"/>
<text x="901" y="701" font-size="20" font-style="italic" style="stroke-width:0.45px" textLength="41" lengthAdjust="spacingAndGlyphs">6.29</text>
<text x="891" y="757" font-size="20" font-style="italic" style="stroke-width:0.45px" textLength="53" lengthAdjust="spacingAndGlyphs">Mean</text>
<line x1="891" y1="760.8" x2="945" y2="760.8" stroke="#222" stroke-width="2.0"/>
<text x="891" y="784" font-size="20" font-style="italic" style="stroke-width:0.45px" textLength="46.5" lengthAdjust="spacingAndGlyphs">-2.67</text>
<text x="891" y="859.5" font-size="20" font-style="italic" style="stroke-width:0.45px" textLength="77.5" lengthAdjust="spacingAndGlyphs">-1.96 SD</text>
<line x1="891" y1="863.5" x2="969.5" y2="863.5" stroke="#222" stroke-width="2.0"/>
<text x="891" y="889.4" font-size="20" font-style="italic" style="stroke-width:0.45px" textLength="58.5" lengthAdjust="spacingAndGlyphs">-15.19</text>
<path d="M466.4 138.0 L465.0 147.4 L467.4 145.6 L468.9 148.9 L470.6 148.0 L469.2 144.8 L472.3 144.9 Z" fill="#ffffff" stroke="#9a9a9a" stroke-width="1.1" stroke-linejoin="round"/>
<ellipse cx="514.6" cy="534.4" rx="2.4" ry="1.3" fill="#7d8888"/>
</svg>
</body></html>
